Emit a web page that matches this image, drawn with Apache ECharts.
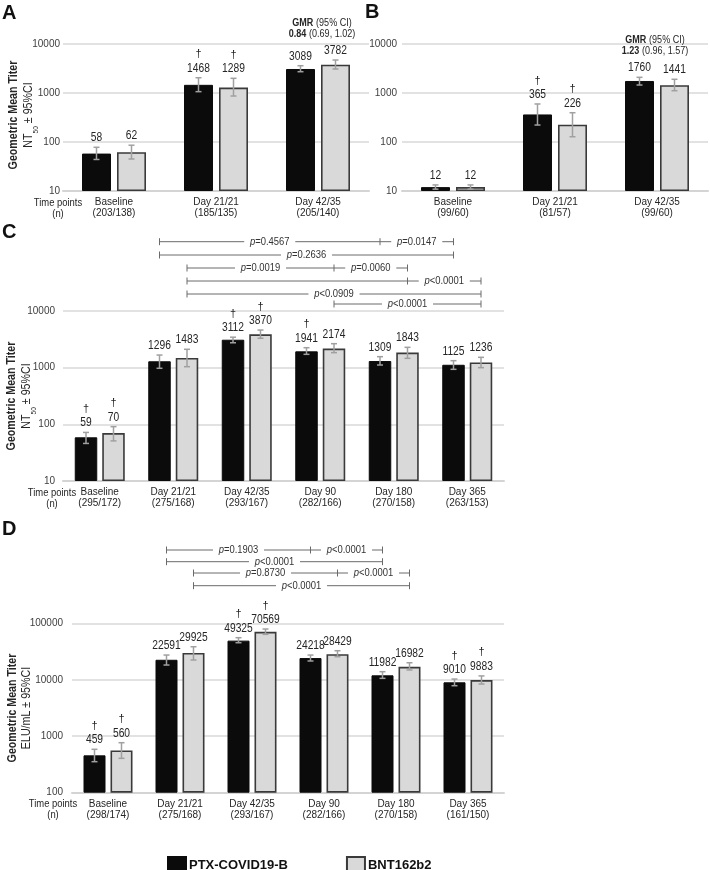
<!DOCTYPE html>
<html><head><meta charset="utf-8">
<script src="https://cdn.jsdelivr.net/npm/echarts@6/dist/echarts.min.js"></script>
<style>html,body{margin:0;padding:0;background:#fff}#c{width:710px;height:870px}</style>
</head><body><div id="c"></div>
<script>
// ---------------- DATA ----------------
const seriesNames = ['PTX-COVID19-B', 'BNT162b2'];

// Panel A (NT50)
const catsA = ['Baseline\n(203/138)', 'Day 21/21\n(185/135)', 'Day 42/35\n(205/140)'];
const gmtA_ptx = [58, 1468, 3089];
const gmtA_bnt = [62, 1289, 3782];
const loA_ptx = [44, 1065, 2720];
const hiA_ptx = [78, 2050, 3606];
const loA_bnt = [45, 868, 3090];
const hiA_bnt = [86, 1995, 4710];
const dagA_ptx = [0, 1, 0];
const dagA_bnt = [0, 1, 0];
const gmrA = ['0.84', '(0.69, 1.02)'];

// Panel B
const catsB = ['Baseline\n(99/60)', 'Day 21/21\n(81/57)', 'Day 42/35\n(99/60)'];
const gmtB_ptx = [12, 365, 1760];
const gmtB_bnt = [12, 226, 1441];
const loB_ptx = [10.9, 222, 1455];
const hiB_ptx = [13.3, 597, 2090];
const loB_bnt = [10.9, 128, 1114];
const hiB_bnt = [13.3, 396, 1905];
const dagB_ptx = [0, 1, 0];
const dagB_bnt = [0, 1, 0];
const gmrB = ['1.23', '(0.96, 1.57)'];

// Panel C
const catsC = ['Baseline\n(295/172)', 'Day 21/21\n(275/168)', 'Day 42/35\n(293/167)', 'Day 90\n(282/166)', 'Day 180\n(270/158)', 'Day 365\n(263/153)'];
const gmtC_ptx = [59, 1296, 3112, 1941, 1309, 1125];
const gmtC_bnt = [70, 1483, 3870, 2174, 1843, 1236];
const loC_ptx = [46, 975, 2750, 1720, 1114, 935];
const hiC_ptx = [72, 1670, 3450, 2250, 1563, 1328];
const loC_bnt = [51, 1040, 3300, 1840, 1462, 1000];
const hiC_bnt = [91, 2110, 4610, 2650, 2285, 1523];
const dagC_ptx = [1, 0, 1, 1, 0, 0];
const dagC_bnt = [1, 0, 1, 0, 0, 0];
// brackets: [category, series] end points, labels per segment
const bracketsC = [
  { ends: [[1, 0], [4, 0], [5, 0]], labels: ['p=0.4567', 'p=0.0147'] },
  { ends: [[1, 0], [5, 0]], labels: ['p=0.2636'] },
  { ends: [[1, 1], [3, 1], [4, 1]], labels: ['p=0.0019', 'p=0.0060'] },
  { ends: [[1, 1], [4, 1], [5, 1]], labels: ['', 'p<0.0001'] },
  { ends: [[1, 1], [5, 1]], labels: ['p<0.0909'] },
  { ends: [[3, 1], [5, 1]], labels: ['p<0.0001'] }
];

// Panel D (ELU/mL)
const catsD = ['Baseline\n(298/174)', 'Day 21/21\n(275/168)', 'Day 42/35\n(293/167)', 'Day 90\n(282/166)', 'Day 180\n(270/158)', 'Day 365\n(161/150)'];
const gmtD_ptx = [459, 22591, 49325, 24218, 11982, 9010];
const gmtD_bnt = [560, 29925, 70569, 28429, 16982, 9883];
const loD_ptx = [354, 18240, 45300, 21500, 10600, 7850];
const hiD_ptx = [587, 27400, 55600, 27400, 13900, 10300];
const loD_bnt = [406, 22390, 63800, 25600, 14900, 8410];
const hiD_bnt = [768, 38470, 79200, 32700, 20000, 11700];
const dagD_ptx = [1, 0, 1, 0, 0, 1];
const dagD_bnt = [1, 0, 1, 0, 0, 1];
const bracketsD = [
  { ends: [[1, 0], [3, 0], [4, 0]], labels: ['p=0.1903', 'p<0.0001'] },
  { ends: [[1, 0], [4, 0]], labels: ['p<0.0001'] },
  { ends: [[1, 1], [3, 1], [4, 1]], labels: ['p=0.8730', 'p<0.0001'] },
  { ends: [[1, 1], [4, 1]], labels: ['p<0.0001'] }
];

// ---------------- LAYOUT / STYLE ----------------
const SANS = '"Liberation Sans",Arial,sans-serif';
const NX = 0.82; // horizontal condensing for a narrow look
const panels = [
  { cats: catsA, ptx: [gmtA_ptx, loA_ptx, hiA_ptx, dagA_ptx], bnt: [gmtA_bnt, loA_bnt, hiA_bnt, dagA_bnt],
    grid: { left: 63, top: 44, width: 306, height: 147 }, barW: 29, gap: 6, min: 10, max: 10000, labelMargin: 3 },
  { cats: catsB, ptx: [gmtB_ptx, loB_ptx, hiB_ptx, dagB_ptx], bnt: [gmtB_bnt, loB_bnt, hiB_bnt, dagB_bnt],
    grid: { left: 402, top: 44, width: 306, height: 147 }, barW: 29, gap: 6, min: 10, max: 10000, labelMargin: 5 },
  { cats: catsC, ptx: [gmtC_ptx, loC_ptx, hiC_ptx, dagC_ptx], bnt: [gmtC_bnt, loC_bnt, hiC_bnt, dagC_bnt],
    grid: { left: 63, top: 311, width: 441, height: 170 }, barW: 22.5, gap: 5, min: 10, max: 10000, labelMargin: 8 },
  { cats: catsD, ptx: [gmtD_ptx, loD_ptx, hiD_ptx, dagD_ptx], bnt: [gmtD_bnt, loD_bnt, hiD_bnt, dagD_bnt],
    grid: { left: 72, top: 623.3, width: 432, height: 169.4 }, barW: 22, gap: 5, min: 100, max: 100000, labelMargin: 9 }
];
const bracketRowsC = [241.7, 255, 268, 281, 294, 304];
const bracketRowsD = [550, 561.7, 573, 585.7];

const chart = echarts.init(document.getElementById('c'), null, { renderer: 'canvas' });

const grids = [], xAxes = [], yAxes = [], series = [];
panels.forEach((p, gi) => {
  grids.push(Object.assign({ containLabel: false }, p.grid));
  xAxes.push({
    type: 'category', gridIndex: gi, data: p.cats,
    axisTick: { show: false },
    axisLine: { show: true, onZero: false, lineStyle: { color: '#d4d4d4', width: 2 } },
    axisLabel: { interval: 0, margin: 6, fontFamily: SANS, fontSize: 10, lineHeight: 11, color: '#262626' },
    splitLine: { show: false }
  });
  yAxes.push({
    type: 'log', logBase: 10, gridIndex: gi, min: p.min, max: p.max, startValue: p.min,
    axisLine: { show: false }, axisTick: { show: false }, minorTick: { show: false },
    axisLabel: { margin: p.labelMargin, fontFamily: SANS, fontSize: 10, color: '#404040', formatter: v => String(v) },
    splitLine: { show: true, lineStyle: { color: '#d9d9d9', width: 1.5 } }
  });
  const styles = [
    { color: '#0b0b0b', borderColor: '#0b0b0b', borderWidth: 1 },
    { color: '#d9d9d9', borderColor: '#3a3a3a', borderWidth: 1.6 }
  ];
  [p.ptx, p.bnt].forEach((arr, si) => {
    series.push({
      type: 'bar', name: seriesNames[si], xAxisIndex: gi, yAxisIndex: gi,
      data: arr[0], barWidth: p.barW, barGap: (p.gap / p.barW * 100) + '%',
      itemStyle: styles[si], clip: true, z: 2, label: { show: false }
    });
  });
  [p.ptx, p.bnt].forEach((arr, si) => {
    const off = (si === 0 ? -1 : 1) * (p.barW + p.gap) / 2;
    const data = arr[0].map((v, i) => [i, arr[1][i], arr[2][i], v, arr[3][i]]);
    series.push({
      type: 'custom', name: 'err' + gi + si, xAxisIndex: gi, yAxisIndex: gi, z: 5,
      encode: { x: 0, y: [1, 2] }, data: data, clip: false,
      renderItem: function (params, api) {
        const cat = api.value(0), lo = api.value(1), hi = api.value(2), v = api.value(3), dag = api.value(4);
        const pLo = api.coord([cat, lo]), pHi = api.coord([cat, hi]);
        const x = pLo[0] + off;
        const st = { stroke: '#a0a0a0', lineWidth: 1.5 };
        const ch = [
          { type: 'line', shape: { x1: x, y1: pLo[1], x2: x, y2: pHi[1] }, style: st },
          { type: 'line', shape: { x1: x - 3, y1: pLo[1], x2: x + 3, y2: pLo[1] }, style: st },
          { type: 'line', shape: { x1: x - 3, y1: pHi[1], x2: x + 3, y2: pHi[1] }, style: st },
          { type: 'text', x: x, y: pHi[1] - 3, scaleX: NX, style: { text: String(v), textAlign: 'center', align: 'center', textVerticalAlign: 'bottom', verticalAlign: 'bottom', font: '12.5px ' + SANS, fill: '#262626' } }
        ];
        if (dag) ch.push({ type: 'text', x: x, y: pHi[1] - 18, style: { text: '\u2020', textAlign: 'center', align: 'center', textVerticalAlign: 'bottom', verticalAlign: 'bottom', font: '11px ' + SANS, fill: '#262626' } });
        return { type: 'group', children: ch };
      }
    });
  });
});

chart.setOption({
  animation: false,
  backgroundColor: '#fff',
  grid: grids, xAxis: xAxes, yAxis: yAxes, series: series,
  legend: {
    data: seriesNames, left: 162, top: 851, itemWidth: 18, itemHeight: 17, itemGap: 58,
    icon: 'rect', selectedMode: false,
    textStyle: { fontFamily: SANS, fontSize: 13, fontWeight: 'bold', color: '#111', padding: [0, 0, 0, -2] }
  }
});

// ---------------- ANNOTATIONS ----------------
const g = [];
function txt(x, y, text, font, opts) {
  return Object.assign({ type: 'text', x: x, y: y, silent: true,
    style: Object.assign({ text: text, font: font, fill: '#262626', textAlign: 'center', align: 'center', textVerticalAlign: 'middle', verticalAlign: 'middle' }, (opts && opts.style) || {}) },
    (opts && opts.el) || {});
}
// panel letters
[['A', 2, 13.5], ['B', 365, 12.5], ['C', 2, 232], ['D', 2, 529.5]].forEach(a => {
  g.push(txt(a[1], a[2], a[0], 'bold 20px ' + SANS, { style: { textAlign: 'left', align: 'left', fill: '#111' } }));
});
// y-axis titles
[[13, 28, 115], [11, 26, 396], [12, 26, 708]].forEach((a, i) => {
  g.push(txt(a[0], a[2], 'Geometric Mean Titer', 'bold 13px ' + SANS, { el: { rotation: Math.PI / 2, scaleX: NX }, style: { fill: '#262626' } }));
  const second = i < 2 ? '{n|NT}{s|50}{n| \u00b1 95%CI}' : '{n|ELU/mL \u00b1 95%CI}';
  g.push({ type: 'text', x: a[1], y: a[2], rotation: Math.PI / 2, scaleX: NX, silent: true,
    style: { text: second, textAlign: 'center', align: 'center', textVerticalAlign: 'middle', verticalAlign: 'middle', fill: '#262626',
      rich: { n: { fontFamily: SANS, fontSize: 13, lineHeight: 15, fill: '#262626', color: '#262626' },
              s: { fontFamily: SANS, fontSize: 8, lineHeight: 15, verticalAlign: 'bottom', padding: [0, 0, -4, 0], fill: '#262626', color: '#262626' } } } });
});
// time points labels
[[58, 208], [52, 498.5], [53, 809]].forEach(a => {
  g.push({ type: 'text', x: a[0], y: a[1], scaleX: NX, silent: true,
    style: { text: 'Time points\n(n)', font: '11.5px ' + SANS, lineHeight: 11, fill: '#262626', textAlign: 'center', align: 'center', textVerticalAlign: 'middle', verticalAlign: 'middle' } });
});
// GMR annotations
[[322, 23, gmrA], [655, 40, gmrB]].forEach(a => {
  const rich = { b: { fontFamily: SANS, fontSize: 11, fontWeight: 'bold', fill: '#262626', color: '#262626' },
                 n: { fontFamily: SANS, fontSize: 11, fill: '#262626', color: '#262626' } };
  g.push({ type: 'text', x: a[0], y: a[1], scaleX: NX, silent: true, style: { text: '{b|GMR} {n|(95% CI)}', rich: rich, textAlign: 'center', align: 'center', textVerticalAlign: 'middle', verticalAlign: 'middle' } });
  g.push({ type: 'text', x: a[0], y: a[1] + 10.5, scaleX: NX, silent: true, style: { text: '{b|' + a[2][0] + '} {n|' + a[2][1] + '}', rich: rich, textAlign: 'center', align: 'center', textVerticalAlign: 'middle', verticalAlign: 'middle' } });
});
// significance brackets
function barX(gi, cat, s) {
  const p = panels[gi];
  const cx = chart.convertToPixel({ xAxisIndex: gi }, cat);
  return cx + (s === 0 ? -1 : 1) * (p.barW + p.gap) / 2;
}
function drawBrackets(gi, brackets, rows) {
  brackets.forEach((b, r) => {
    const y = rows[r];
    const xs = b.ends.map(e => barX(gi, e[0], e[1]));
    const ls = { stroke: '#6a6a6a', lineWidth: 1 };
    g.push({ type: 'line', silent: true, shape: { x1: xs[0], y1: y, x2: xs[xs.length - 1], y2: y }, style: ls });
    xs.forEach(x => g.push({ type: 'line', silent: true, shape: { x1: x, y1: y - 3.5, x2: x, y2: y + 3.5 }, style: ls }));
    b.labels.forEach((lab, k) => {
      if (!lab) return;
      const mx = (xs[k] + xs[k + 1]) / 2;
      g.push({ type: 'text', x: mx, y: y, scaleX: NX, silent: true, z: 10,
        style: { text: '{i|p}{t|' + lab.slice(1) + '}', backgroundColor: '#fff', padding: [0, 7],
          textAlign: 'center', align: 'center', textVerticalAlign: 'middle', verticalAlign: 'middle',
          rich: { i: { fontFamily: SANS, fontSize: 11.5, fontStyle: 'italic', fill: '#333', color: '#333' },
                  t: { fontFamily: SANS, fontSize: 11.5, fill: '#333', color: '#333' } } } });
    });
  });
}
drawBrackets(2, bracketsC, bracketRowsC);
drawBrackets(3, bracketsD, bracketRowsD);

chart.setOption({ graphic: { elements: g } });
</script>
</body></html>
